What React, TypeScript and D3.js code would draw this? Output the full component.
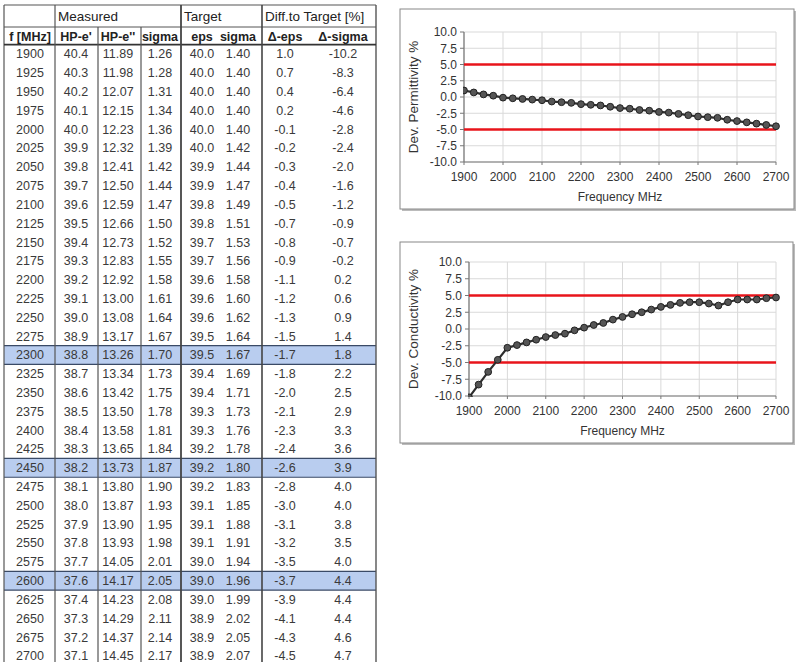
import React from "react";
import * as d3 from "d3";

const freqs = [1900,1925,1950,1975,2000,2025,2050,2075,2100,2125,2150,2175,2200,2225,2250,2275,2300,2325,2350,2375,2400,2425,2450,2475,2500,2525,2550,2575,2600,2625,2650,2675,2700];
const hpE1 = ["40.4","40.3","40.2","40.1","40.0","39.9","39.8","39.7","39.6","39.5","39.4","39.3","39.2","39.1","39.0","38.9","38.8","38.7","38.6","38.5","38.4","38.3","38.2","38.1","38.0","37.9","37.8","37.7","37.6","37.4","37.3","37.2","37.1"];
const hpE2 = ["11.89","11.98","12.07","12.15","12.23","12.32","12.41","12.50","12.59","12.66","12.73","12.83","12.92","13.00","13.08","13.17","13.26","13.34","13.42","13.50","13.58","13.65","13.73","13.80","13.87","13.90","13.93","14.05","14.17","14.23","14.29","14.37","14.45"];
const sigmaMeas = ["1.26","1.28","1.31","1.34","1.36","1.39","1.42","1.44","1.47","1.50","1.52","1.55","1.58","1.61","1.64","1.67","1.70","1.73","1.75","1.78","1.81","1.84","1.87","1.90","1.93","1.95","1.98","2.01","2.05","2.08","2.11","2.14","2.17"];
const targetEps = ["40.0","40.0","40.0","40.0","40.0","40.0","39.9","39.9","39.8","39.8","39.7","39.7","39.6","39.6","39.6","39.5","39.5","39.4","39.4","39.3","39.3","39.2","39.2","39.2","39.1","39.1","39.1","39.0","39.0","39.0","38.9","38.9","38.9"];
const targetSigma = ["1.40","1.40","1.40","1.40","1.40","1.42","1.44","1.47","1.49","1.51","1.53","1.56","1.58","1.60","1.62","1.64","1.67","1.69","1.71","1.73","1.76","1.78","1.80","1.83","1.85","1.88","1.91","1.94","1.96","1.99","2.02","2.05","2.07"];
const deltaEps = [1.0,0.7,0.4,0.2,-0.1,-0.2,-0.3,-0.4,-0.5,-0.7,-0.8,-0.9,-1.1,-1.2,-1.3,-1.5,-1.7,-1.8,-2.0,-2.1,-2.3,-2.4,-2.6,-2.8,-3.0,-3.1,-3.2,-3.5,-3.7,-3.9,-4.1,-4.3,-4.5];
const deltaSigma = [-10.2,-8.3,-6.4,-4.6,-2.8,-2.4,-2.0,-1.6,-1.2,-0.9,-0.7,-0.2,0.2,0.6,0.9,1.4,1.8,2.2,2.5,2.9,3.3,3.6,3.9,4.0,4.0,3.8,3.5,4.0,4.4,4.4,4.4,4.6,4.7];
const highlighted = [2300, 2450, 2600];
const headerGroups = ["Measured", "Target", "Diff.to Target [%]"];
const subHeaders = ["f [MHz]", "HP-e'", "HP-e''", "sigma", "eps", "sigma", "Δ-eps", "Δ-sigma"];
const xTicks = [1900,2000,2100,2200,2300,2400,2500,2600,2700];
const yTicks = [10,7.5,5,2.5,0,-2.5,-5,-7.5,-10];
const limits = [5, -5];

const FONT = "'Liberation Sans', Arial, sans-serif";

function Table() {
  const left = 4, right = 376;
  const top = 5, h1 = 27, h2 = 44.6;
  const rowH = 18.81;
  const borders = [55, 98, 141, 181, 262];
  const centers = [30, 76, 118, 160, 202, 238, 285, 343];
  const nRows = freqs.length;
  const bottom = h2 + rowH * nRows;
  const cols = [
    freqs.map(String), hpE1, hpE2, sigmaMeas, targetEps, targetSigma,
    deltaEps.map(v => v.toFixed(1)), deltaSigma.map(v => v.toFixed(1)),
  ];
  return (
    <g fontFamily={FONT}>
      <rect x={left} y={top} width={right - left} height={bottom - top} fill="#fff" />
      {freqs.map((f, i) =>
        highlighted.includes(f) ? (
          <g key={"hl" + f}>
            <rect x={left} y={h2 + i * rowH} width={right - left} height={rowH} fill="#b9cdef" />
            <line x1={left} x2={right} y1={h2 + i * rowH} y2={h2 + i * rowH} stroke="#3a4a66" strokeWidth={1.2} />
            <line x1={left} x2={right} y1={h2 + (i + 1) * rowH} y2={h2 + (i + 1) * rowH} stroke="#3a4a66" strokeWidth={1.2} />
          </g>
        ) : null
      )}
      <line x1={left} x2={right} y1={top} y2={top} stroke="#555" strokeWidth={1.2} />
      <line x1={left} x2={left} y1={top} y2={bottom} stroke="#555" strokeWidth={1.2} />
      <line x1={right} x2={right} y1={top} y2={bottom} stroke="#555" strokeWidth={1.4} />
      <line x1={left} x2={right} y1={h1} y2={h1} stroke="#555" strokeWidth={1} />
      <line x1={left} x2={right} y1={h2} y2={h2} stroke="#333" strokeWidth={1.6} />
      <line x1={borders[0]} x2={borders[0]} y1={top} y2={bottom} stroke="#555" strokeWidth={1.2} />
      <line x1={borders[1]} x2={borders[1]} y1={h1} y2={bottom} stroke="#555" strokeWidth={1.2} />
      <line x1={borders[2]} x2={borders[2]} y1={h1} y2={bottom} stroke="#555" strokeWidth={1.2} />
      <line x1={borders[3]} x2={borders[3]} y1={top} y2={bottom} stroke="#444" strokeWidth={1.8} />
      <line x1={borders[4]} x2={borders[4]} y1={top} y2={bottom} stroke="#444" strokeWidth={1.6} />
      <text x={58} y={21} fontSize={13.5} fill="#222">{headerGroups[0]}</text>
      <text x={184} y={21} fontSize={13.5} fill="#222">{headerGroups[1]}</text>
      <text x={265} y={21} fontSize={13.5} fill="#222">{headerGroups[2]}</text>
      {subHeaders.map((s, j) => (
        <text key={"sh" + j} x={centers[j]} y={40.5} fontSize={12.5} fontWeight="bold" textAnchor="middle" fill="#222">{s}</text>
      ))}
      {freqs.map((f, i) => (
        <g key={"r" + f}>
          {cols.map((c, j) => (
            <text key={j} x={centers[j]} y={54 + i * rowH + 4.4} fontSize={12.5} textAnchor="middle" fill="#3a3a3a">{c[i]}</text>
          ))}
        </g>
      ))}
    </g>
  );
}

function Chart({ frame, plot, values, yLabel, id }) {
  const x = d3.scaleLinear().domain([1900, 2700]).range([plot.x0, plot.x1]);
  const y = d3.scaleLinear().domain([-10, 10]).range([plot.y1, plot.y0]);
  const line = d3.line().x((d) => x(d[0])).y((d) => y(d[1]));
  const pts = freqs.map((f, i) => [f, values[i]]);
  return (
    <g fontFamily={FONT}>
      <rect x={frame.x + 2} y={frame.y + 2} width={frame.w} height={frame.h} fill="#bbb" />
      <rect x={frame.x} y={frame.y} width={frame.w} height={frame.h} fill="#fff" stroke="#888" strokeWidth={1} />
      <defs>
        <clipPath id={id}>
          <rect x={plot.x0 - 1} y={plot.y0} width={plot.x1 - plot.x0 + 6} height={plot.y1 - plot.y0 + 1} />
        </clipPath>
      </defs>
      {xTicks.map((t) => (
        <line key={"gx" + t} x1={x(t)} x2={x(t)} y1={plot.y0} y2={plot.y1} stroke="#d9d9d9" strokeWidth={1} />
      ))}
      {yTicks.map((t) => (
        <line key={"gy" + t} x1={plot.x0} x2={plot.x1} y1={y(t)} y2={y(t)} stroke="#d9d9d9" strokeWidth={1} />
      ))}
      <line x1={plot.x0} x2={plot.x0} y1={plot.y0} y2={plot.y1} stroke="#777" strokeWidth={1.2} />
      <line x1={plot.x0} x2={plot.x1} y1={plot.y1} y2={plot.y1} stroke="#777" strokeWidth={1.2} />
      {yTicks.map((t) => (
        <g key={"ty" + t}>
          <line x1={plot.x0 - 4} x2={plot.x0} y1={y(t)} y2={y(t)} stroke="#777" />
          <text x={plot.x0 - 7} y={y(t) + 4.3} fontSize={12} textAnchor="end" fill="#333">{t.toFixed(1)}</text>
        </g>
      ))}
      {xTicks.map((t) => (
        <g key={"tx" + t}>
          <line x1={x(t)} x2={x(t)} y1={plot.y1} y2={plot.y1 + 3} stroke="#777" />
          <text x={x(t)} y={plot.y1 + 19} fontSize={12} textAnchor="middle" fill="#333">{t}</text>
        </g>
      ))}
      <text x={(plot.x0 + plot.x1) / 2} y={plot.y1 + 39} fontSize={12} textAnchor="middle" fill="#333">Frequency MHz</text>
      <text transform={`translate(${frame.x + 18},${(plot.y0 + plot.y1) / 2}) rotate(-90)`} fontSize={13.5} textAnchor="middle" fill="#333">{yLabel}</text>
      {limits.map((l) => (
        <line key={"lim" + l} x1={plot.x0} x2={plot.x1} y1={y(l)} y2={y(l)} stroke="#e8141b" strokeWidth={2.5} />
      ))}
      <g clipPath={`url(#${id})`}>
        <path d={line(pts)} fill="none" stroke="#2e2e2e" strokeWidth={2.2} />
        {pts.map((p) => (
          <circle key={p[0]} cx={x(p[0])} cy={y(p[1])} r={3.4} fill="#555" stroke="#222" strokeWidth={1} />
        ))}
      </g>
    </g>
  );
}

export default function App() {
  return (
    <svg width={801} height={662} style={{ position: "absolute", left: 0, top: 0, background: "#fff" }}>
      <rect x={0} y={0} width={801} height={662} fill="#fff" />
      <Table />
      <Chart
        id="c1"
        frame={{ x: 400, y: 9, w: 394, h: 200 }}
        plot={{ x0: 464, x1: 776, y0: 32, y1: 162 }}
        values={deltaEps}
        yLabel="Dev. Permittivity %"
      />
      <Chart
        id="c2"
        frame={{ x: 400, y: 242, w: 393, h: 201 }}
        plot={{ x0: 469, x1: 776, y0: 262, y1: 396 }}
        values={deltaSigma}
        yLabel="Dev. Conductivity %"
      />
    </svg>
  );
}
